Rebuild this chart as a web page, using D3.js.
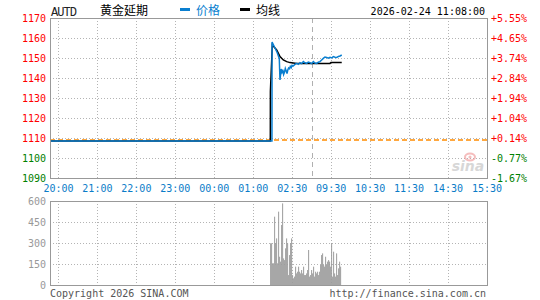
<!DOCTYPE html>
<html><head><meta charset="utf-8">
<script src="https://cdn.jsdelivr.net/npm/d3@7"></script>
<style>html,body{margin:0;padding:0;background:#fff;}svg{display:block;}</style>
</head><body>
<svg id="c" width="540" height="300"></svg>
<script>
// ---------- data ----------
const symbol = "AUTD";
const title = "黄金延期";
const stamp = "2026-02-24 11:08:00";
const prevClose = 1109;
const timeTicks = [0, 60, 120, 180, 240, 300, 360, 420, 480, 540, 600, 660];
const timeLabels = ["20:00","21:00","22:00","23:00","00:00","01:00","02:30","09:30","10:30","11:30","14:30","15:30"];
const sessionBreak = 390;
const priceTicks = [1170, 1160, 1150, 1140, 1130, 1120, 1110, 1100, 1090];
const pctLabels = ["+5.55%","+4.65%","+3.74%","+2.84%","+1.94%","+1.04%","+0.14%","-0.77%","-1.67%"];
const volTicks = [600, 450, 300, 150, 0];
// price line (minutes after 20:00, value)
const priceTimes = [-13, 328.8, 329.0, 333.5, 337.1, 340.1, 341.2, 342.0, 343.1, 344.3, 345.5, 346.8, 348.2, 349.4, 350.8, 352.0, 353.2, 354.5, 355.9, 357.1, 358.5, 359.7, 361.3, 364.3, 367.0, 369.5, 372.0, 374.6, 377.1, 379.7, 382.3, 384.8, 387.4, 390.0, 392.5, 395.1, 397.7, 400.2, 402.8, 405.4, 407.9, 410.5, 413.1, 415.6, 418.2, 420.8, 423.3, 426.0, 428.6, 431.2, 433.7, 436.3];
const priceValues = [1108.5, 1108.5, 1158.0, 1155.0, 1152.5, 1149.8, 1139.0, 1141.5, 1144.5, 1143.0, 1144.2, 1141.8, 1143.0, 1144.8, 1143.5, 1142.2, 1144.0, 1145.0, 1144.6, 1145.8, 1145.2, 1146.3, 1146.0, 1146.8, 1147.3, 1146.8, 1147.7, 1147.2, 1148.2, 1147.6, 1147.3, 1148.0, 1147.7, 1147.2, 1148.2, 1147.5, 1147.3, 1147.9, 1148.2, 1149.0, 1149.8, 1150.5, 1150.3, 1149.9, 1150.3, 1150.0, 1150.7, 1150.4, 1150.3, 1150.8, 1151.0, 1151.5];
const avgTimes = [-13, 326.3, 326.4, 329.4, 333.5, 336.1, 341.2, 346.3, 351.5, 356.6, 367.0, 418.2, 419.8, 436.3];
const avgValues = [1108.5, 1108.5, 1133.2, 1156.5, 1155.0, 1154.0, 1150.7, 1149.0, 1148.2, 1147.7, 1147.3, 1147.3, 1147.8, 1147.8];
// volume bars
const volStart = 326;
const volStep = 1.54;
const volumes = [298, 298, 155, 155, 488, 298, 333, 155, 524, 202, 167, 429, 583, 190, 178, 262, 333, 298, 71, 214, 298, 333, 71, 48, 60, 131, 83, 95, 131, 95, 83, 107, 83, 131, 71, 71, 83, 107, 250, 60, 71, 107, 83, 131, 60, 95, 83, 95, 71, 95, 143, 214, 226, 143, 131, 202, 143, 167, 178, 167, 131, 298, 60, 238, 83, 60, 226, 71, 119, 167, 131];

// ---------- drawing ----------
const svg = d3.select("#c");
const mono = "'DejaVu Sans Mono', 'Liberation Mono', monospace";
const L = 50, R = 487;
const x = d3.scaleLinear().domain([-13, 660]).range([L, R]);
const y = d3.scaleLinear().domain([1090, 1170]).range([178, 18]);
const yv = d3.scaleLinear().domain([0, 600]).range([285, 201]);
const gridCol = "#b4b4b4";

function panel(yTop, yBot, hTicks, yScale) {
  const g = svg.append("g");
  g.selectAll("line.v").data(timeTicks.slice(0, -1)).join("line")
    .attr("x1", d => Math.round(x(d)) + 0.5).attr("x2", d => Math.round(x(d)) + 0.5)
    .attr("y1", yTop).attr("y2", yBot)
    .attr("stroke", gridCol).attr("stroke-dasharray", "1,2");
  g.selectAll("line.h").data(hTicks).join("line")
    .attr("x1", L).attr("x2", R)
    .attr("y1", d => Math.round(yScale(d)) + 0.5).attr("y2", d => Math.round(yScale(d)) + 0.5)
    .attr("stroke", gridCol).attr("stroke-dasharray", "1,2");
  return g;
}

// main panel grid
panel(18, 178, priceTicks.slice(1, -1), y);
// session break dashed line
svg.append("line").attr("x1", Math.round(x(sessionBreak)) + 0.5).attr("x2", Math.round(x(sessionBreak)) + 0.5)
  .attr("y1", 18).attr("y2", 178).attr("stroke", "#b0b0b0").attr("stroke-dasharray", "5,4");

// sina watermark
const wm = svg.append("g").attr("opacity", 0.55);
wm.append("ellipse").attr("cx", 470).attr("cy", 157).attr("rx", 5).attr("ry", 3.5).attr("fill", "none").attr("stroke", "#e88").attr("stroke-width", 2);
wm.append("circle").attr("cx", 470).attr("cy", 157).attr("r", 1.6).attr("fill", "#e88");
wm.append("text").attr("x", 468).attr("y", 171).attr("text-anchor", "middle")
  .attr("font-family", "'DejaVu Sans', sans-serif").attr("font-size", 14).attr("font-weight", "bold")
  .attr("font-style", "italic").attr("fill", "#b8b8b8").text("sina");

// prev close dashed orange
svg.append("line").attr("x1", L).attr("x2", R).attr("y1", y(prevClose)).attr("y2", y(prevClose))
  .attr("stroke", "#ff8c00").attr("stroke-width", 1.5).attr("stroke-dasharray", "5,3");

// avg line then price line
const avgData = avgTimes.map((t, i) => [t, avgValues[i]]);
const priceData = priceTimes.map((t, i) => [t, priceValues[i]]);
const line = d3.line().x(d => x(d[0])).y(d => y(d[1]));
svg.append("path").datum(avgData).attr("d", line).attr("fill", "none").attr("stroke", "#000").attr("stroke-width", 1.5);
svg.append("path").datum(priceData).attr("d", line).attr("fill", "none").attr("stroke", "#0a7fd0").attr("stroke-width", 1.5);

// main border
svg.append("rect").attr("x", L + 0.5).attr("y", 18.5).attr("width", R - L).attr("height", 160)
  .attr("fill", "none").attr("stroke", "#999");

// left price labels
svg.selectAll("text.pl").data(priceTicks).join("text")
  .attr("x", 46).attr("y", d => y(d)).attr("dy", "0.35em").attr("text-anchor", "end")
  .attr("font-family", mono).attr("font-size", 10)
  .attr("fill", d => d >= prevClose ? "#f00" : "#008000").text(d => d);
// right pct labels
svg.selectAll("text.pr").data(priceTicks).join("text")
  .attr("x", 491).attr("y", d => y(d)).attr("dy", "0.35em").attr("text-anchor", "start")
  .attr("font-family", mono).attr("font-size", 10)
  .attr("fill", (d, i) => pctLabels[i][0] === "+" ? "#f00" : "#008000").text((d, i) => pctLabels[i]);
// time labels
svg.selectAll("text.tl").data(timeTicks).join("text")
  .attr("x", d => x(d)).attr("y", 188).attr("dy", "0.35em").attr("text-anchor", "middle")
  .attr("font-family", mono).attr("font-size", 10).attr("fill", "#0a7cc8")
  .text((d, i) => timeLabels[i]);

// volume panel
panel(201, 285, volTicks.slice(1, -1), yv);
const bw = x(volStep) - x(0);
svg.selectAll("rect.vb").data(volumes).join("rect")
  .attr("x", (d, i) => x(volStart + i * volStep))
  .attr("width", Math.max(1, bw * 0.85))
  .attr("y", d => yv(d)).attr("height", d => yv(0) - yv(d))
  .attr("fill", "#9c9c9c");
svg.append("rect").attr("x", L + 0.5).attr("y", 201.5).attr("width", R - L).attr("height", 84)
  .attr("fill", "none").attr("stroke", "#999");
svg.selectAll("text.vl").data(volTicks).join("text")
  .attr("x", 46).attr("y", d => yv(d)).attr("dy", "0.35em").attr("text-anchor", "end")
  .attr("font-family", mono).attr("font-size", 10).attr("fill", "#999").text(d => d);

// header
svg.append("text").attr("x", 51).attr("y", 12).attr("dy", "0.35em")
  .attr("font-family", "'Liberation Mono', monospace").attr("font-size", 12)
  .attr("textLength", 26).attr("fill", "#222").text(symbol);
svg.append("text").attr("x", 100).attr("y", 10.5).attr("dy", "0.35em")
  .attr("font-family", "'Noto Sans CJK SC', sans-serif").attr("font-size", 12).attr("fill", "#000").text(title);
const leg = [["价格", "#0a7fd0", 180], ["均线", "#000", 240]];
leg.forEach(([lab, col, lx]) => {
  svg.append("rect").attr("x", lx).attr("y", 8).attr("width", 10).attr("height", 3).attr("fill", col);
  svg.append("text").attr("x", lx + 16).attr("y", 10.5).attr("dy", "0.35em")
    .attr("font-family", "'Noto Sans CJK SC', sans-serif").attr("font-size", 12).attr("fill", col).text(lab);
});
svg.append("text").attr("x", 485).attr("y", 11).attr("dy", "0.35em").attr("text-anchor", "end")
  .attr("font-family", mono).attr("font-size", 10).attr("fill", "#000").text(stamp);

// footer
svg.append("text").attr("x", 50).attr("y", 293).attr("dy", "0.35em")
  .attr("font-family", mono).attr("font-size", 10).attr("fill", "#555").text("Copyright 2026 SINA.COM");
svg.append("text").attr("x", 486).attr("y", 293).attr("dy", "0.35em").attr("text-anchor", "end")
  .attr("font-family", mono).attr("font-size", 10).attr("fill", "#555").text("http://finance.sina.com.cn");
</script>
</body></html>
